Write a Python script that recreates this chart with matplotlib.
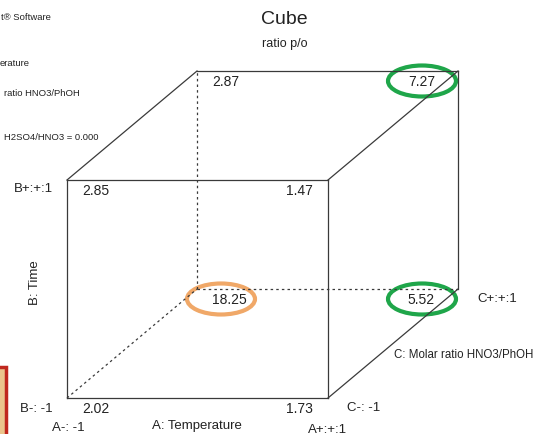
import matplotlib.pyplot as plt
from matplotlib.patches import Ellipse, Rectangle

plt.rcParams['font.family'] = ['Liberation Sans', 'DejaVu Sans']

# factor levels (A: Temperature, B: Time, C: Molar ratio) and response ratio p/o
A = [-1, 1, -1, 1, -1, 1, -1, 1]
B = [-1, -1, 1, 1, -1, -1, 1, 1]
C = [-1, -1, -1, -1, 1, 1, 1, 1]
ratio = [2.02, 1.73, 2.85, 1.47, 18.25, 5.52, 2.87, 7.27]
highlight = {18.25: '#F0A868', 5.52: '#1FA64A', 7.27: '#1FA64A'}

side_notes = ['t® Software', 'erature', 'ratio HNO3/PhOH', 'H2SO4/HNO3 = 0.000']

# front face (C-) and back face (C+) in pixels: x_left, x_right, y_bottom, y_top
faces = {-1: (67, 328, 399, 181), 1: (197, 458, 290, 72)}
# right-hand value labels sit further in on the back face
right_pad = {-1: 15, 1: 23}


def corner(a, b, c):
    xl, xr, yb, yt = faces[c]
    x = xl if a < 0 else xr
    y = yb if b < 0 else yt
    return x, y


fig = plt.figure(figsize=(5.37, 4.35), dpi=100)
ax = fig.add_axes([0, 0, 1, 1])
ax.set_xlim(0, 537)
ax.set_ylim(435, 0)
ax.axis('off')

edge = '#3a3a3a'
# cube edges: (start corner, end corner, hidden)
edges = [
    ((-1, -1, -1), (1, -1, -1), False), ((-1, 1, -1), (1, 1, -1), False),
    ((-1, -1, -1), (-1, 1, -1), False), ((1, -1, -1), (1, 1, -1), False),
    ((-1, 1, 1), (1, 1, 1), False), ((1, -1, 1), (1, 1, 1), False),
    ((-1, 1, -1), (-1, 1, 1), False), ((1, 1, -1), (1, 1, 1), False),
    ((1, -1, -1), (1, -1, 1), False),
    ((-1, -1, 1), (1, -1, 1), True), ((-1, -1, 1), (-1, 1, 1), True),
    ((-1, -1, -1), (-1, -1, 1), True),
]
for p, q, hidden in edges:
    x0, y0 = corner(*p)
    x1, y1 = corner(*q)
    ax.plot([x0, x1], [y0, y1], color=edge, lw=0.9,
            ls=(0, (2, 2.5)) if hidden else '-')

# response values at each corner
for a, b, c, v in zip(A, B, C, ratio):
    x, y = corner(a, b, c)
    if a < 0:
        ax.text(x + 15, y + 10, f'{v:.2f}', ha='left', va='center',
                fontsize=10, color='#222222')
    else:
        ax.text(x - right_pad[c], y + 10, f'{v:.2f}', ha='right', va='center',
                fontsize=10, color='#222222')
    if v in highlight:
        cx = x + 24 if a < 0 else x - 36
        ax.add_patch(Ellipse((cx, y + 10), 68, 31,
                             fill=False, ec=highlight[v], lw=3))

ax.text(284, 20, 'Cube', ha='center', va='center', fontsize=14, color='#222222')
ax.text(285, 44, 'ratio p/o', ha='center', va='center', fontsize=9, color='#222222')

# factor level labels
lab = dict(fontsize=9.5, color='#222222', va='center')
ax.text(14, 189, 'B+:+:1', ha='left', **lab)
ax.text(20, 409, 'B-: -1', ha='left', **lab)
ax.text(52, 428, 'A-: -1', ha='left', **lab)
ax.text(197, 426, 'A: Temperature', ha='center', **lab)
ax.text(308, 430, 'A+:+:1', ha='left', **lab)
ax.text(347, 408, 'C-: -1', ha='left', **lab)
ax.text(477, 299, 'C+:+:1', ha='left', **lab)
ax.text(394, 355, 'C: Molar ratio HNO3/PhOH', ha='left',
        fontsize=8.3, color='#222222', va='center')
ax.text(35, 283, 'B: Time', ha='center', rotation=90, **lab)

# setup notes in the upper-left corner
for txt, x, y in zip(side_notes, [1, 0, 4, 4], [17, 63, 93, 138]):
    ax.text(x, y, txt, ha='left', va='center', fontsize=6.8, color='#222222')

ax.add_patch(Rectangle((-5, 368), 10.5, 80, fc='#EBC58C', ec='#C0281E', lw=2.5))

fig.savefig('out.png', dpi=100)
